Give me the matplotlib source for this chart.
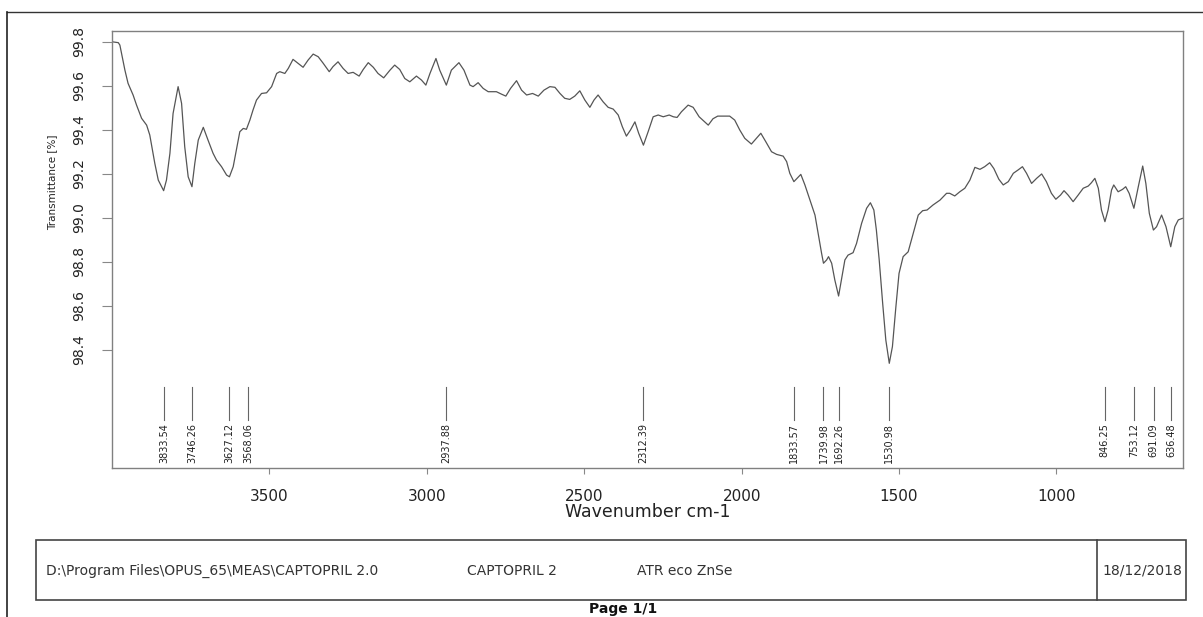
import matplotlib
matplotlib.use('Agg')
import matplotlib.pyplot as plt
import matplotlib.transforms as mtransforms
from matplotlib.lines import Line2D
from matplotlib.patches import Rectangle

# ---------------- data ----------------
wavenumber = [
    4000, 3980, 3975, 3959, 3949, 3933, 3922, 3906, 3890, 3880,
    3864, 3853, 3836, 3827, 3816, 3806, 3790, 3779, 3769, 3758,
    3746, 3737, 3726, 3710, 3695, 3679, 3668, 3652, 3636, 3627,
    3615, 3605, 3594, 3583, 3573, 3562, 3552, 3541, 3525, 3509,
    3493, 3477, 3467, 3451, 3440, 3425, 3409, 3393, 3377, 3361,
    3345, 3329, 3310, 3298, 3282, 3266, 3250, 3234, 3215, 3202,
    3186, 3170, 3155, 3137, 3117, 3102, 3086, 3070, 3054, 3033,
    3017, 3003, 2990, 2971, 2959, 2938, 2922, 2898, 2882, 2863,
    2853, 2837, 2821, 2805, 2779, 2763, 2749, 2734, 2715, 2699,
    2683, 2664, 2646, 2628, 2609, 2593, 2577, 2562, 2546, 2530,
    2514, 2498, 2482, 2469, 2456, 2440, 2424, 2408, 2392, 2379,
    2366, 2353, 2339, 2327, 2312, 2297, 2281, 2265, 2249, 2230,
    2217, 2205, 2191, 2170, 2154, 2135, 2106, 2091, 2076, 2038,
    2022, 2006, 1990, 1969, 1953, 1939, 1923, 1905, 1889, 1868,
    1857, 1847, 1834, 1824, 1812, 1799, 1783, 1767, 1757, 1746,
    1740, 1730, 1724, 1714, 1704, 1692, 1683, 1672, 1662, 1646,
    1635, 1619, 1603, 1591, 1580, 1572, 1563, 1552, 1542, 1531,
    1521, 1510, 1500, 1487, 1471, 1455, 1439, 1425, 1411, 1392,
    1370, 1349, 1339, 1323, 1307, 1291, 1275, 1259, 1243, 1228,
    1212, 1199, 1183, 1169, 1153, 1137, 1122, 1108, 1095, 1079,
    1063, 1047, 1032, 1016, 1002, 987, 976, 963, 947, 931,
    915, 899, 889, 878, 867, 857, 846, 836, 825, 818,
    804, 790, 780, 769, 754, 740, 726, 716, 705, 692,
    682, 666, 652, 637, 624, 613, 600,
]
transmittance = [
    99.800, 99.796, 99.785, 99.671, 99.611, 99.558, 99.512, 99.452, 99.421, 99.376,
    99.247, 99.171, 99.123, 99.171, 99.293, 99.474, 99.596, 99.520, 99.323, 99.186,
    99.141, 99.247, 99.353, 99.411, 99.353, 99.293, 99.262, 99.232, 99.194, 99.186,
    99.232, 99.308, 99.391, 99.406, 99.402, 99.444, 99.490, 99.535, 99.565, 99.568,
    99.596, 99.656, 99.664, 99.656, 99.679, 99.720, 99.702, 99.684, 99.717, 99.744,
    99.732, 99.702, 99.664, 99.687, 99.709, 99.679, 99.656, 99.661, 99.644, 99.674,
    99.705, 99.684, 99.656, 99.636, 99.671, 99.694, 99.674, 99.633, 99.618, 99.644,
    99.626, 99.603, 99.656, 99.724, 99.671, 99.603, 99.671, 99.705, 99.671, 99.603,
    99.596, 99.614, 99.588, 99.573, 99.573, 99.562, 99.553, 99.588, 99.623, 99.580,
    99.558, 99.565, 99.553, 99.580, 99.596, 99.593, 99.565, 99.543, 99.538, 99.553,
    99.577, 99.535, 99.502, 99.535, 99.558, 99.527, 99.502, 99.494, 99.467, 99.414,
    99.371, 99.399, 99.436, 99.384, 99.330, 99.391, 99.459, 99.467, 99.459, 99.467,
    99.459, 99.456, 99.482, 99.512, 99.502, 99.459, 99.421, 99.450, 99.462, 99.462,
    99.444, 99.399, 99.361, 99.335, 99.361, 99.384, 99.345, 99.300, 99.288, 99.280,
    99.255, 99.202, 99.164, 99.179, 99.197, 99.149, 99.080, 99.012, 98.929, 98.838,
    98.793, 98.808, 98.823, 98.793, 98.717, 98.644, 98.717, 98.808, 98.830, 98.841,
    98.883, 98.974, 99.043, 99.068, 99.035, 98.944, 98.808, 98.611, 98.444, 98.338,
    98.414, 98.595, 98.747, 98.823, 98.845, 98.929, 99.012, 99.032, 99.035, 99.058,
    99.080, 99.111, 99.111, 99.099, 99.118, 99.134, 99.171, 99.229, 99.220, 99.232,
    99.250, 99.224, 99.175, 99.149, 99.164, 99.202, 99.217, 99.232, 99.202, 99.156,
    99.179, 99.199, 99.164, 99.111, 99.084, 99.103, 99.123, 99.103, 99.073, 99.103,
    99.134, 99.144, 99.159, 99.179, 99.134, 99.035, 98.982, 99.035, 99.126, 99.149,
    99.118, 99.129, 99.141, 99.111, 99.043, 99.141, 99.235, 99.156, 99.020, 98.944,
    98.959, 99.012, 98.959, 98.868, 98.959, 98.990, 98.997,
]

peak_wn = [3833.54, 3746.26, 3627.12, 3568.06, 2937.88, 2312.39, 1833.57,
           1739.98, 1692.26, 1530.98, 846.25, 753.12, 691.09, 636.48]

x_ticks = [3500, 3000, 2500, 2000, 1500, 1000]
y_ticks = [98.4, 98.6, 98.8, 99.0, 99.2, 99.4, 99.6, 99.8]
y_ticklabels = ["98.4", "98.6", "98.8", "99.0", "99.2", "99.4", "99.6", "99.8"]

footer_path = "D:\\Program Files\\OPUS_65\\MEAS\\CAPTOPRIL 2.0"
footer_name = "CAPTOPRIL 2"
footer_acc = "ATR eco ZnSe"
footer_date = "18/12/2018"

# ---------------- figure ----------------
W, H = 1203, 617
plt.rcParams['font.family'] = ['DejaVu Sans']
fig = plt.figure(figsize=(W / 100, H / 100), dpi=100)
fig.patch.set_facecolor('white')

def fx(px):
    return px / W

def fy(py):
    return 1 - py / H

ax = fig.add_axes([fx(112), fy(468), fx(1183) - fx(112), fy(31) - fy(468)])
ax.plot(wavenumber, transmittance, color='#555555', lw=0.9, solid_joinstyle='round')
ax.set_xlim(4000, 598)
ax.set_ylim(97.862, 99.849)

for s in ax.spines.values():
    s.set_color('#808080')
    s.set_linewidth(1.0)

ax.set_xticks(x_ticks)
ax.set_xticklabels([str(t) for t in x_ticks])
ax.tick_params(axis='x', direction='out', length=4, width=0.8, color='#888888',
               labelsize=11, pad=11, labelcolor='#222222')
ax.set_yticks(y_ticks)
ax.set_yticklabels(y_ticklabels)
ax.tick_params(axis='y', direction='out', length=7.5, width=0.8, color='#888888',
               labelsize=10, pad=11, labelcolor='#222222', labelrotation=90)
for lab in ax.get_yticklabels():
    lab.set_va('center')

ax.set_xlabel("Wavenumber cm-1", fontsize=12.5, color='#222222', va='center')
ax.xaxis.set_label_coords(0.5, (468 - 512) / 437)
ax.set_ylabel("Transmittance [%]", fontsize=7.5, color='#222222', va='center')
ax.yaxis.set_label_coords((52.5 - 112) / 1071, (468 - 182) / 437)

# peak markers
trans = mtransforms.blended_transform_factory(ax.transData, ax.transAxes)
y_top = (468 - 387) / 437
y_bot = (468 - 420) / 437
y_txt = (468 - 423) / 437
for w in peak_wn:
    ax.plot([w, w], [y_bot, y_top], transform=trans, color='#666666', lw=0.8)
    ax.text(w, y_txt, f"{w:.2f}", transform=trans, rotation=90, ha='center',
            va='top', fontsize=7, color='#222222')

# page border lines
fig.add_artist(Line2D([fx(7), fx(1203)], [fy(12), fy(12)], color='#333333', lw=1.0,
                      transform=fig.transFigure))
fig.add_artist(Line2D([fx(7), fx(7)], [fy(12), fy(617)], color='#222222', lw=1.2,
                      transform=fig.transFigure))

# footer box
fig.add_artist(Rectangle((fx(36), fy(600)), fx(1186) - fx(36), fy(540) - fy(600),
                         fill=False, edgecolor='#444444', lw=1.2, transform=fig.transFigure))
fig.add_artist(Line2D([fx(1097), fx(1097)], [fy(540), fy(600)], color='#444444', lw=1.2,
                      transform=fig.transFigure))
fsz = 10
fig.text(fx(46), fy(571), footer_path, ha='left', va='center', fontsize=fsz, color='#333333')
fig.text(fx(467), fy(571), footer_name, ha='left', va='center', fontsize=fsz, color='#333333')
fig.text(fx(637), fy(571), footer_acc, ha='left', va='center', fontsize=fsz, color='#333333')
fig.text(fx(1142), fy(571), footer_date, ha='center', va='center', fontsize=fsz, color='#333333')
fig.text(fx(623), fy(616.5), "Page 1/1", ha='center', va='bottom', fontsize=10,
         fontweight='bold', color='#111111')

fig.savefig('out.png', dpi=100, facecolor='white')
